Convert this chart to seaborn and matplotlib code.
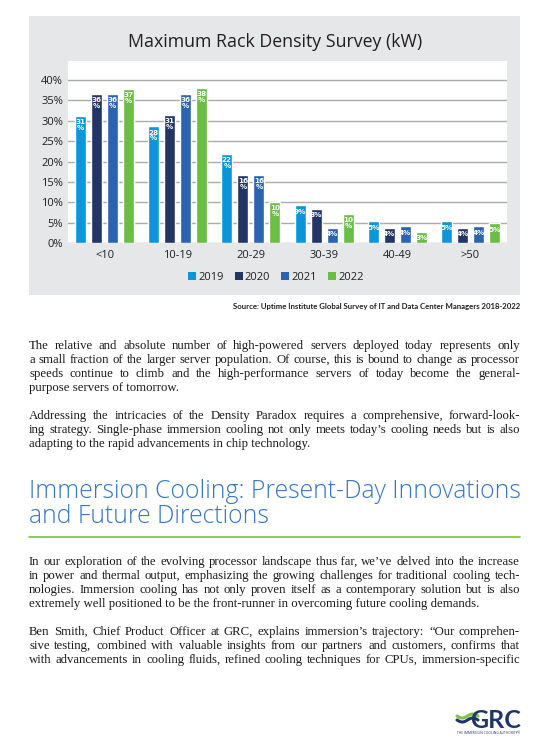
import numpy as np
import matplotlib.pyplot as plt
import pandas as pd
import seaborn as sns
from matplotlib.patches import Rectangle, Patch
from matplotlib.lines import Line2D

# chart data (bar heights, printed labels as shown)
categories = ["<10", "10-19", "20-29", "30-39", "40-49", ">50"]
years = ["2019", "2020", "2021", "2022"]
share_2019 = [31.2, 28.7, 21.9, 9.3, 5.3, 5.3]
share_2020 = [36.6, 31.5, 16.7, 8.4, 3.8, 3.8]
share_2021 = [36.6, 36.6, 16.7, 3.7, 4.1, 4.1]
share_2022 = [37.9, 38.1, 10.1, 7.2, 2.8, 4.9]
label_2019 = [31, 28, 22, 9, 5, 5]
label_2020 = [36, 31, 16, 8, 4, 4]
label_2021 = [36, 36, 16, 4, 4, 4]
label_2022 = [37, 38, 10, 10, 3, 5]
yticks = [0, 5, 10, 15, 20, 25, 30, 35, 40]
colors = ["#0A96D8", "#233565", "#2A63AE", "#6ABD45"]

df = pd.DataFrame({
    "range": categories * 4,
    "year": np.repeat(years, len(categories)),
    "share": share_2019 + share_2020 + share_2021 + share_2022,
})
labels = [label_2019, label_2020, label_2021, label_2022]

sns.set_style("white")
plt.rcParams["font.family"] = ["Open Sans", "DejaVu Sans"]

W, H = 551, 740
fig = plt.figure(figsize=(W / 100, H / 100), dpi=100)
fig.patch.set_facecolor("white")


def fx(x):
    return x / W


def fy(y):
    return 1 - y / H


# grey panel behind the chart
fig.add_artist(Rectangle((fx(29), fy(295)), fx(520) - fx(29), fy(16) - fy(295),
                         transform=fig.transFigure, facecolor="#E6E7E8",
                         edgecolor="none", zorder=-5))

ax = fig.add_axes([fx(68), fy(243), fx(507) - fx(68), fy(61) - fy(243)])
ax.set_zorder(2)
ax.set_facecolor("white")
sns.barplot(data=df, x="range", y="share", hue="year", hue_order=years,
            palette=dict(zip(years, colors)), width=0.875, gap=0.31,
            saturation=1, legend=False, ax=ax)

ax.set_ylim(0, 44.7)
ax.set_xlim(-0.5, len(categories) - 0.5)
ax.set_yticks(yticks)
ax.set_yticklabels([f"{t}%" for t in yticks])
ax.yaxis.grid(True, color="#ABABAB", lw=1)
ax.set_axisbelow(True)
for s in ax.spines.values():
    s.set_visible(False)
ax.tick_params(axis="both", length=0, labelsize=8, colors="#231F20")
ax.tick_params(axis="y", pad=3.5)
ax.tick_params(axis="x", pad=5)
ax.set_xlabel("")
ax.set_ylabel("")

# white value labels at top of bars
for cont, labs in zip(ax.containers, labels):
    for bar, v in zip(cont, labs):
        txt = f"{v}\n%" if v >= 10 else f"{v}%"
        ax.annotate(txt, (bar.get_x() + bar.get_width() / 2, bar.get_height()),
                    xytext=(0, -2.5), textcoords="offset points",
                    ha="center", va="top", color="white", fontsize=5.2,
                    fontweight="bold", linespacing=0.95,
                    family="DejaVu Sans")

fig.text(fx(275), fy(47.4), "Maximum Rack Density Survey (kW)", ha="center",
         va="baseline", fontsize=12.8, color="#231F20")

handles = [Patch(facecolor=c, edgecolor="none") for c in colors]
fig.legend(handles, years, loc="center", bbox_to_anchor=(fx(276), fy(277)),
           ncol=4, frameon=False, fontsize=8, handlelength=0.7, handleheight=0.7,
           handletextpad=0.2, columnspacing=1.0, labelcolor="#231F20")

fig.text(fx(520), fy(309),
         "Source: Uptime Institute Global Survey of IT and Data Center Managers 2018-2022",
         ha="right", va="baseline", fontsize=5.6, fontweight="bold", color="#231F20",
         family="Lato")

# body text, justified like the page
L, R = 29, 520
body = dict(family="Liberation Serif", fontsize=9.2, color="#1C1A1B", va="baseline")
renderer = fig.canvas.get_renderer()


def paragraph(lines, y0, step=14.1, last_justified=False):
    for i, line in enumerate(lines):
        y = y0 + i * step
        if i == len(lines) - 1 and not last_justified:
            fig.text(fx(L), fy(y), line, ha="left", **body)
            continue
        words = line.split(" ")
        texts = [fig.text(0, fy(y), w, ha="left", **body) for w in words]
        widths = [t.get_window_extent(renderer).width for t in texts]
        gap = (R - L - sum(widths)) / (len(words) - 1)
        x = L
        for t, w in zip(texts, widths):
            t.set_x(fx(x))
            x += w + gap


paragraph([
    "The relative and absolute number of high-powered servers deployed today represents only",
    "a small fraction of the larger server population. Of course, this is bound to change as processor",
    "speeds continue to climb and the high-performance servers of today become the general-",
    "purpose servers of tomorrow.",
], 349)
paragraph([
    "Addressing the intricacies of the Density Paradox requires a comprehensive, forward-look-",
    "ing strategy. Single-phase immersion cooling not only meets today\u2019s cooling needs but is also",
    "adapting to the rapid advancements in chip technology.",
], 418.7)

head = dict(ha="left", va="baseline", fontsize=17.8, fontweight="light",
            color="#3677C6", family="Open Sans")
fig.text(fx(L), fy(498.3), "Immersion Cooling: Present-Day Innovations", **head)
fig.text(fx(L), fy(523), "and Future Directions", **head)
fig.add_artist(Line2D([fx(L), fx(R)], [fy(536.7), fy(536.7)], color="#7DC242", lw=1.2))

paragraph([
    "In our exploration of the evolving processor landscape thus\u00a0far, we\u2019ve delved into the increase",
    "in power and thermal output, emphasizing the growing challenges for traditional cooling tech-",
    "nologies. Immersion cooling has not only proven itself as a contemporary solution but is also",
    "extremely well positioned to be the front-runner in overcoming future cooling demands.",
], 565)
paragraph([
    "Ben Smith, Chief Product Officer at GRC, explains immersion\u2019s trajectory: \u201cOur comprehen-",
    "sive testing, combined with valuable insights from our partners and customers, confirms that",
    "with advancements in cooling fluids, refined cooling techniques for CPUs, immersion-specific",
], 635, last_justified=True)

# GRC logo
fig.text(fx(521), fy(728), "GRC", ha="right", va="baseline", fontsize=18,
         fontweight="bold", color="#1F3566", family="Lato")
wx = np.linspace(457, 478, 30)
for off, c in [(0, "#7DC242"), (4, "#1F3566")]:
    wy = 716 + off + 2 * np.sin((wx - 457) / 21 * 2 * np.pi)
    fig.add_artist(Line2D(fx(wx), fy(wy), color=c, lw=2.2))
fig.text(fx(520), fy(733.5), "THE IMMERSION COOLING AUTHORITY\u00ae", ha="right",
         va="baseline", fontsize=2.3, color="#1F3566")

fig.savefig("out.png", dpi=100)
